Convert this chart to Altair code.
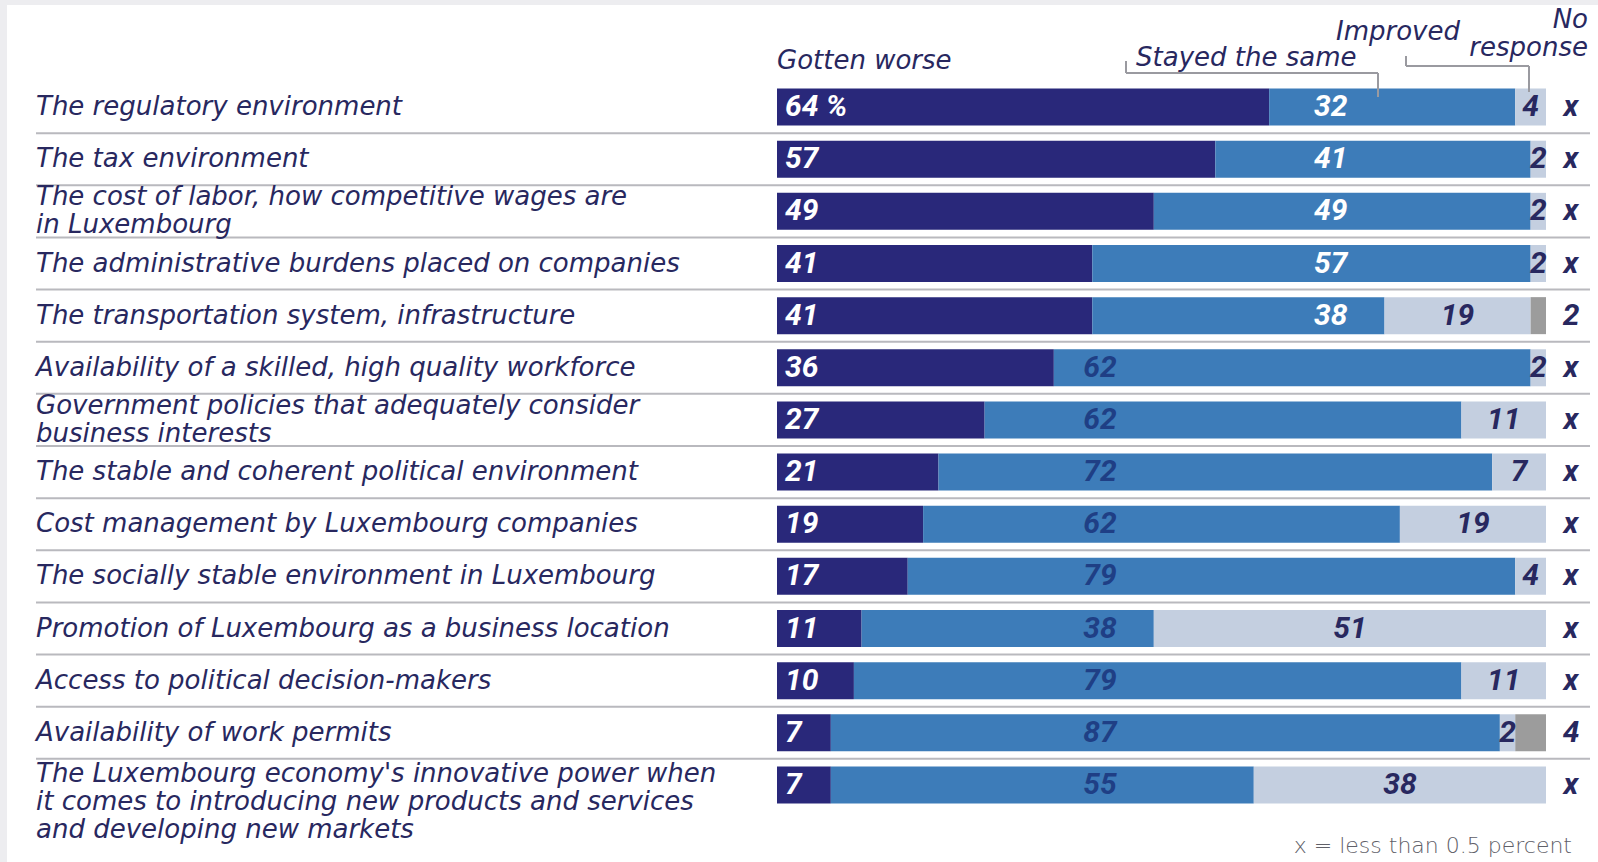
import altair as alt
import pandas as pd

categories = [
    "The regulatory environment",
    "The tax environment",
    "The cost of labor, how competitive wages are\nin Luxembourg",
    "The administrative burdens placed on companies",
    "The transportation system, infrastructure",
    "Availability of a skilled, high quality workforce",
    "Government policies that adequately consider\nbusiness interests",
    "The stable and coherent political environment",
    "Cost management by Luxembourg companies",
    "The socially stable environment in Luxembourg",
    "Promotion of Luxembourg as a business location",
    "Access to political decision-makers",
    "Availability of work permits",
    "The Luxembourg economy's innovative power when\nit comes to introducing new products and services\nand developing new markets",
]
worse = [64, 57, 49, 41, 41, 36, 27, 21, 19, 17, 11, 10, 7, 7]
same = [32, 41, 49, 57, 38, 62, 62, 72, 62, 79, 38, 79, 87, 55]
improved = [4, 2, 2, 2, 19, 2, 11, 7, 19, 4, 51, 11, 2, 38]
no_response = [0, 0, 0, 0, 2, 0, 0, 0, 0, 0, 0, 0, 4, 0]
no_response_labels = ["x", "x", "x", "x", "2", "x", "x", "x", "x", "x", "x", "x", "4", "x"]

segments = ["Gotten worse", "Stayed the same", "Improved", "No response"]
seg_colors = ["#29287a", "#3d7cb9", "#c4cfe0", "#9c9c9c"]
NAVY = "#28285f"
LABEL_FONT = "DejaVu Sans"
LABEL_SIZE = 26
NUM_FONT = "Liberation Sans Narrow, Roboto, sans-serif"

# geometry of plot area
W, H = 769, 730
STEP = H / len(categories)

rows = []
for i, c in enumerate(categories):
    vals = [worse[i], same[i], improved[i], no_response[i]]
    for j, s in enumerate(segments):
        rows.append({"cat": c, "seg": s, "value": vals[j], "order": j})
seg_df = pd.DataFrame(rows)
seg_df = seg_df[seg_df["value"] > 0]

lab = pd.DataFrame({"cat": categories, "worse": worse, "same": same,
                    "improved": improved, "nr": no_response_labels})
lab["worse_txt"] = [f"{w} %" if i == 0 else str(w) for i, w in enumerate(worse)]
lab["same_pos"] = [min(72, w + s - 3.5) if w >= 41 else 42 for w, s in zip(worse, same)]
lab["same_white"] = [w >= 41 for w in worse]
lab["imp_pos"] = [w + s + im / 2 for w, s, im in zip(worse, same, improved)]
lab["same_txt"] = [str(s) for s in same]
lab["imp_txt"] = [str(im) for im in improved]
lab["lines"] = [c.count("\n") + 1 for c in categories]

yenc = alt.Y("cat:N", sort=categories, axis=None,
             scale=alt.Scale(domain=categories, paddingInner=0.29, paddingOuter=0.145))
xscale = alt.Scale(domain=[0, 100], nice=False, zero=True)

bars = alt.Chart(seg_df).mark_bar().encode(
    x=alt.X("value:Q", stack="zero", scale=xscale, axis=None),
    y=yenc,
    order=alt.Order("order:Q"),
    color=alt.Color("seg:N", scale=alt.Scale(domain=segments, range=seg_colors), legend=None),
)

sep = alt.Chart(lab.iloc[:-1]).mark_rule(color="#b9b9be", strokeWidth=2, yOffset=STEP / 2).encode(
    y=yenc, x=alt.value(-741), x2=alt.value(813)
)

label_style = dict(align="left", baseline="middle", font=LABEL_FONT, fontStyle="italic",
                   fontSize=LABEL_SIZE, color=NAVY, lineBreak="\n", lineHeight=28)


def row_label_layer(nlines, dy):
    return alt.Chart(lab[lab["lines"] == nlines]).mark_text(dy=dy, **label_style).encode(
        y=yenc, x=alt.value(-741), text="cat:N")


row_labels1 = row_label_layer(1, 0)
row_labels2 = row_label_layer(2, -14)
row_labels3 = row_label_layer(3, -11)

num_style = dict(baseline="middle", font=NUM_FONT, fontStyle="italic", fontSize=30, fontWeight="bold")

worse_txt = alt.Chart(lab).mark_text(align="left", dx=8, color="white", **num_style).encode(
    y=yenc, x=alt.value(0), text="worse_txt:N")

same_txt = alt.Chart(lab).mark_text(align="center", **num_style).encode(
    y=yenc, x=alt.X("same_pos:Q", scale=xscale), text="same_txt:N",
    color=alt.condition("datum.same_white", alt.value("white"), alt.value("#1f3f85")))

imp_txt = alt.Chart(lab).mark_text(align="center", color=NAVY, **num_style).encode(
    y=yenc, x=alt.X("imp_pos:Q", scale=xscale), text="imp_txt:N")

nr_txt = alt.Chart(lab).mark_text(align="center", color=NAVY, **num_style).encode(
    y=yenc, x=alt.value(794), text="nr:N")

hdr_style = dict(baseline="middle", font=LABEL_FONT, fontStyle="italic", fontSize=26,
                 color=NAVY)
hdr_df = pd.DataFrame({"t": ["Gotten worse", "Stayed the same", "Improved"],
                       "px": [0, 359, 559], "py": [-20, -23, -49]})
hdr = alt.Chart(hdr_df).mark_text(align="left", **hdr_style).encode(
    x=alt.X("px:Q", scale=None), y=alt.Y("py:Q", scale=None), text="t:N")

hdr_nr = alt.Chart(pd.DataFrame({"t": ["No\nresponse"]})).mark_text(
    align="right", lineBreak="\n", lineHeight=28, **hdr_style
).encode(x=alt.value(811), y=alt.value(-61), text="t:N")

footnote = alt.Chart(pd.DataFrame({"t": ["x = less than 0.5 percent"]})).mark_text(
    align="right", baseline="middle", font="DejaVu Sans", fontSize=22, fontWeight=300,
    color="#606068"
).encode(x=alt.value(795), y=alt.value(765), text="t:N")

br = pd.DataFrame({
    "x1": [349, 349, 601, 629, 629, 752],
    "x2": [349, 601, 601, 629, 752, 752],
    "y1": [-20, -8, -8, -25, -15, -15],
    "y2": [-8, -8, 16, -15, -15, 11],
})
brackets = alt.Chart(br).mark_rule(color="#9a9aa0", strokeWidth=2).encode(
    x=alt.X("x1:Q", scale=None), x2="x2:Q",
    y=alt.Y("y1:Q", scale=None), y2="y2:Q")

frame = alt.Chart(pd.DataFrame({"x1": [-777, -777], "x2": [-770, 821],
                                "y1": [-81, -81], "y2": [781, -76]})).mark_rect(
    color="#ededf0").encode(x=alt.X("x1:Q", scale=None), x2="x2:Q",
                            y=alt.Y("y1:Q", scale=None), y2="y2:Q")

chart = alt.layer(
    frame, sep, bars, row_labels1, row_labels2, row_labels3, worse_txt, same_txt, imp_txt,
    nr_txt, hdr, hdr_nr, brackets, footnote
).properties(
    width=W, height=H,
    autosize=alt.AutoSizeParams(type="none"),
    padding={"left": 777, "top": 81, "right": 52, "bottom": 51},
    background="white",
).configure_view(stroke=None)

chart.save("out.html", embed_options={"renderer": "svg", "actions": False})
